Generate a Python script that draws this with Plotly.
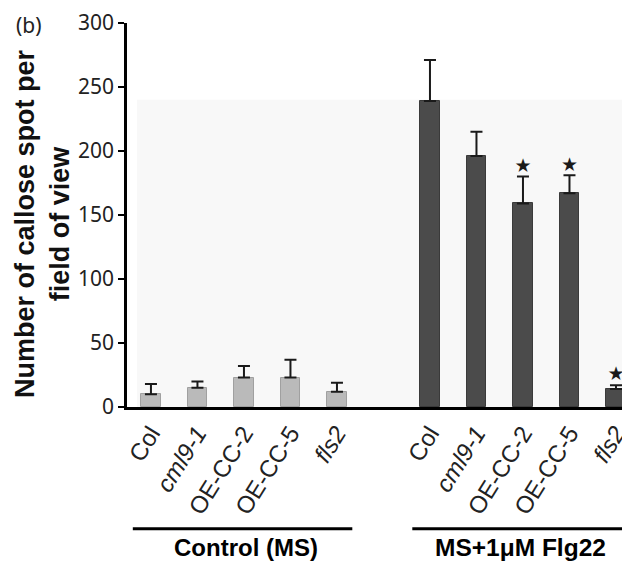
import plotly.graph_objects as go

# ---- data ----
genotypes = ["Col", "cml9-1", "OE-CC-2", "OE-CC-5", "fls2"]
tick_labels = ["Col", "<i>cml9-1</i>", "OE-CC-2", "OE-CC-5", "<i>fls2</i>"]
groups = ["Control (MS)", "MS+1μM Flg22"]
y_title = "Number of callose spot per<br>field of view"
control_mean = [10, 15, 23, 23, 12]
control_err = [8, 5, 9, 14, 7]
flg22_mean = [239, 196, 159, 167, 14]
flg22_err = [32, 19, 21, 14, 3]
flg22_sig = [False, False, True, True, True]

ctrl_x = [0, 1, 2, 3, 4]
flg_x = [6, 7, 8, 9, 10]

# page has an 8px body margin; size the figure so it fills the 630x569 window
OFF = 8
W, H = 630 - OFF, 569 - OFF
ml, mr, mt, mb = 127 - OFF, 0, 19 - OFF, 162
pw, ph = W - ml - mr, H - mt - mb


def px_x(p):
    return (p - OFF - ml) / pw


def px_y(p):
    return 1 - (p - OFF - mt) / ph


fig = go.Figure()

fig.add_trace(go.Bar(
    x=ctrl_x, y=control_mean, width=0.42,
    marker=dict(color="#bababa", line=dict(color="#a0a0a0", width=1)),
    error_y=dict(type="data", array=control_err, arrayminus=[0]*5, symmetric=False,
                 color="#1a1a1a", thickness=2, width=6),
    showlegend=False,
))
fig.add_trace(go.Bar(
    x=flg_x, y=flg22_mean, width=0.42,
    marker=dict(color="#4b4b4b", line=dict(color="#3a3a3a", width=1)),
    error_y=dict(type="data", array=flg22_err, arrayminus=[0]*5, symmetric=False,
                 color="#1a1a1a", thickness=2, width=6),
    showlegend=False,
))

# significance stars
sx = [x for x, s in zip(flg_x, flg22_sig) if s]
sy = [m + e for m, e, s in zip(flg22_mean, flg22_err, flg22_sig) if s]
fig.add_trace(go.Scatter(
    x=sx, y=sy, mode="text", text=["★"] * len(sx), textposition="top center",
    textfont=dict(size=19, color="#1a1a1a", family="DejaVu Sans"),
    showlegend=False, cliponaxis=False,
))

line_y = px_y(530)
label_y = px_y(549)
shapes = [
    dict(type="rect", xref="x", yref="y", x0=-0.3, x1=10.6, y0=0, y1=240,
         fillcolor="#f8f8f8", line=dict(width=0), layer="below"),
    dict(type="line", xref="x", yref="paper", x0=-0.39, x1=4.33, y0=line_y, y1=line_y,
         line=dict(color="black", width=3)),
    dict(type="line", xref="x", yref="paper", x0=5.62, x1=10.6, y0=line_y, y1=line_y,
         line=dict(color="black", width=3)),
]

annotations = [
    dict(text="<b>" + groups[0] + "</b>", x=2.05, y=label_y, xref="x", yref="paper",
         showarrow=False, font=dict(family="Liberation Sans", size=24, color="black"),
         xanchor="center", yanchor="middle"),
    dict(text="<b>" + groups[1] + "</b>", x=7.95, y=label_y, xref="x", yref="paper",
         showarrow=False, font=dict(family="Liberation Sans", size=24.5, color="black"),
         xanchor="center", yanchor="middle"),
    dict(text="(b)", x=px_x(14), y=px_y(21), xref="paper", yref="paper", showarrow=False,
         font=dict(family="Noto Sans", size=21, color="#222"),
         xanchor="left", yanchor="middle"),
    dict(text="<b>" + y_title + "</b>", x=px_x(43), y=px_y(222), xref="paper", yref="paper",
         showarrow=False, textangle=-90,
         font=dict(family="Liberation Sans", size=27, color="#111"),
         xanchor="center", yanchor="middle"),
]

fig.update_layout(
    width=W, height=H,
    margin=dict(l=ml, r=mr, t=mt, b=mb),
    plot_bgcolor="white", paper_bgcolor="white",
    shapes=shapes, annotations=annotations,
    bargap=0,
    xaxis=dict(
        range=[-0.515, 10.28], tickmode="array",
        tickvals=ctrl_x + flg_x, ticktext=tick_labels + tick_labels,
        tickangle=-58, ticks="", showgrid=False, zeroline=False,
        showline=True, linecolor="black", linewidth=2.5,
        tickfont=dict(family="Liberation Sans", size=24, color="#222"),
        ticklabeloverflow="allow",
    ),
    yaxis=dict(
        range=[0, 300], tickvals=[0, 50, 100, 150, 200, 250, 300],
        ticks="outside", ticklen=6, tickwidth=2, tickcolor="black",
        showline=True, linecolor="black", linewidth=2.5,
        showgrid=False, zeroline=False,
        tickfont=dict(family="Noto Sans", size=21, color="#222"),
        ticklabeloverflow="allow",
    ),
)

fig.write_html("out.html")
